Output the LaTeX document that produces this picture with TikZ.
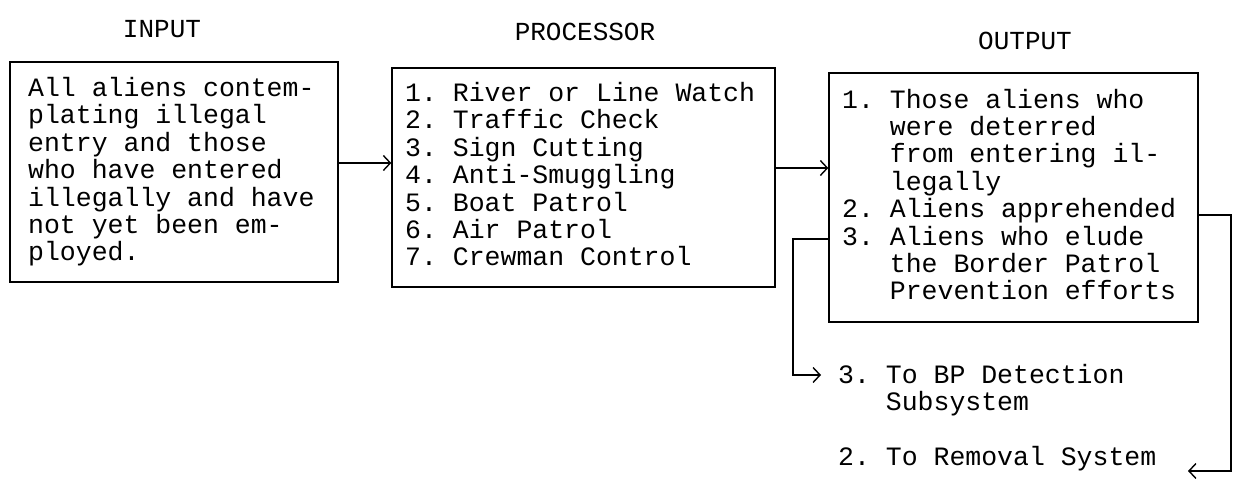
\documentclass[tikz,border=0pt]{standalone}
\usepackage{fontspec}
\setmonofont{Liberation Mono}
\usetikzlibrary{arrows.meta}
\tikzset{
  ink/.style={line width=1.4bp, black},
  boxnode/.style={draw, ink, inner sep=0pt},
  txt/.style={font=\ttfamily\fontsize{26.5bp}{27.4bp}\selectfont, inner sep=0pt, align=left, anchor=base west},
  ttl/.style={font=\ttfamily\fontsize{26bp}{28bp}\selectfont, inner sep=0pt, anchor=base},
  arr/.style={ink, -{Straight Barb[length=7bp,width=15bp,line width=1.4bp]}},
}
\begin{document}
\begin{tikzpicture}[x=1bp,y=-1bp]
\useasboundingbox (0,0) rectangle (1235,485);
% titles
\node[ttl] (tin) at (162,38) {INPUT};
\node[ttl] (tpr) at (585,41) {PROCESSOR};
\node[ttl] (tout) at (1025,50) {OUTPUT};
% boxes
\node[boxnode, minimum width=328bp, minimum height=220bp] (b1) at (174,172) {};
\node[boxnode, minimum width=383bp, minimum height=219bp] (b2) at (583.5,177.5) {};
\node[boxnode, minimum width=369bp, minimum height=249bp] (b3) at (1013.5,197.5) {};
% box texts (anchored at the baseline of the last line)
\node[txt] (t1) at (28,261) {All aliens contem-\\plating illegal\\entry and those\\who have entered\\illegally and have\\not yet been em-\\ployed.};
\node[txt] (t2) at (405,266) {1. River or Line Watch\\2. Traffic Check\\3. Sign Cutting\\4. Anti-Smuggling\\5. Boat Patrol\\6. Air Patrol\\7. Crewman Control};
\node[txt] (t3) at (842,300) {1. Those aliens who\\\hphantom{1. }were deterred\\\hphantom{1. }from entering il-\\\hphantom{1. }legally\\2. Aliens apprehended\\3. Aliens who elude\\\hphantom{3. }the Border Patrol\\\hphantom{3. }Prevention efforts};
% outputs below
\node[txt, font=\ttfamily\fontsize{26.5bp}{26.5bp}\selectfont] (o3) at (838,410) {3. To BP Detection\\\hphantom{3. }Subsystem};
\node[txt] (o2) at (838,465) {2. To Removal System};
% connectors
\coordinate (c1) at (1231,215);
\coordinate (c2) at (1231,471);
\coordinate (e2) at (1188,471);
\coordinate (d1) at (793,239);
\coordinate (d2) at (793,375);
\coordinate (e3) at (821,375);
\draw[arr] (b1.east |- 0,163) -- (b2.west |- 0,163);
\draw[arr] (b2.east |- 0,168) -- (b3.west |- 0,168);
\draw[arr] (b3.east |- c1) -- (c1) -- (c2) -- (e2);
\draw[arr] (b3.west |- d1) -- (d1) -- (d2) -- (e3);
\end{tikzpicture}
\end{document}
